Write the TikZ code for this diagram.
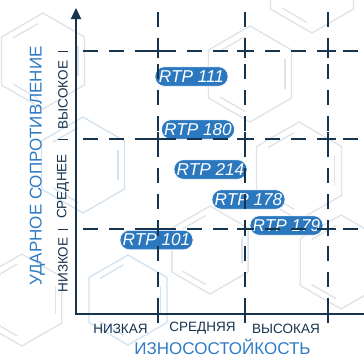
\documentclass[tikz,border=0pt]{standalone}
\usepackage{fontspec}
\setmainfont{Liberation Sans}
\usetikzlibrary{arrows.meta,calc}
\definecolor{navy}{HTML}{17344F}
\definecolor{axblue}{HTML}{2F7CC4}
\definecolor{pillblue}{HTML}{2B78BF}
\definecolor{hexgray}{HTML}{DEE3E8}
\definecolor{hexblue}{HTML}{D2E3F0}
\newcommand\benzring[4]{%
  \begin{scope}[shift={(#1,#2)}]
    \draw[hexline,#4] (90:#3) -- (150:#3) -- (210:#3) -- (270:#3) -- (330:#3) -- (30:#3) -- cycle;
    \foreach \a/\b in {90/150,210/270,330/30}{
      \draw[hexline,#4] ($(\a:#3*0.84)!0.14!(\b:#3*0.84)$) -- ($(\a:#3*0.84)!0.86!(\b:#3*0.84)$);
    }
  \end{scope}}
\begin{document}
\begin{tikzpicture}[x=1pt,y=-1pt,
  hexline/.style={hexgray,line width=1.3pt},
  axisline/.style={navy,line width=2.2pt},
  gridline/.style={navy,line width=1.8pt,dash pattern=on 15pt off 11pt},
  crossline/.style={navy,line width=1.8pt},
  pill/.style={fill=pillblue,draw=white,line width=0.6pt,rounded corners=9.5pt,
    minimum height=19.5pt,minimum width=73pt,inner xsep=2pt,inner ysep=0pt,text=white,
    font=\fontsize{17.2}{18}\selectfont\itshape},
  lowlab/.style={text=navy,font=\fontsize{13.5}{14}\selectfont,inner sep=0pt},
  axlab/.style={text=axblue,font=\fontsize{17}{18}\selectfont,inner sep=0pt}
]
\useasboundingbox (0,0) rectangle (364,357);
\fill[white] (0,0) rectangle (364,357);
% faint background rings
\begin{scope}
\clip (0,0) rectangle (364,357);
\benzring{250}{74}{48}{}
\benzring{299}{171}{49}{}
\benzring{312}{-15}{48}{}
\benzring{83}{165}{48}{hexblue}
\benzring{43}{61}{48}{}
\benzring{341}{262}{47}{}
\benzring{128}{300}{45}{hexblue}
\benzring{22}{300}{46}{}
\benzring{210}{250}{44}{}
\end{scope}
% pills
\node[pill] (p111) at (191.5,76.5) {RTP 111};
\node[pill] (p180) at (198,129.5) {RTP 180};
\node[pill] (p214) at (210.5,169.5) {RTP 214};
\node[pill] (p178) at (248.5,199.5) {RTP 178};
\node[pill] (p179) at (286.5,225.5) {RTP 179};
\node[pill] (p101) at (156.5,240) {RTP 101};
% grid
\coordinate (o) at (76,314);
\coordinate (ytop) at (76,8);
\coordinate (xend) at (364,314);
\foreach \x/\n in {158/a,245/b,328/c}{
  \coordinate (t\n) at (\x,12);
  \coordinate (b\n) at (\x,314);
  \draw[gridline] (t\n) -- (b\n);
}
\foreach \y/\n in {51/h1,139/h2,229/h3}{
  \coordinate (l\n) at (83,\y);
  \coordinate (r\n) at (364,\y);
  \draw[gridline] (l\n) -- (r\n);
  \foreach \x in {158,245,328}{
    \draw[crossline] (\x-8,\y) -- (\x+8,\y) (\x,\y-7) -- (\x,\y+7);
  }
}
% axes
\draw[axisline] (xend) -- (o) -- ++(0,-296);
\draw[navy,line width=2.2pt,-{Triangle[width=10pt,length=11pt]}] (76,40) -- (ytop);
\foreach \n in {a,b,c}{
  \draw[navy,line width=1.8pt] ($(b\n)+(0,-4)$) -- ($(b\n)+(0,9)$);
}
% y separators
\foreach \y in {51,139,229}{
  \draw[navy,line width=1pt] (58,\y) -- (68,\y);
}
% labels
\node[lowlab,rotate=90] (yhi) at (63,95) {ВЫСОКОЕ};
\node[lowlab,rotate=90] (ymid) at (63,186.5) {СРЕДНЕЕ};
\node[lowlab,rotate=90] (ylo) at (63,265) {НИЗКОЕ};
\node[lowlab] (xlo) at (120.5,328.5) {НИЗКАЯ};
\node[lowlab] (xmid) at (202.5,328.5) {СРЕДНЯЯ};
\node[lowlab] (xhi) at (286,328.5) {ВЫСОКАЯ};
\node[axlab,anchor=base] (xt) at (222.5,354) {ИЗНОСОСТОЙКОСТЬ};
\node[axlab,rotate=90,font=\fontsize{17}{18}\selectfont] (yt) at (37.5,166) {УДАРНОЕ СОПРОТИВЛЕНИЕ};
\end{tikzpicture}
\end{document}
